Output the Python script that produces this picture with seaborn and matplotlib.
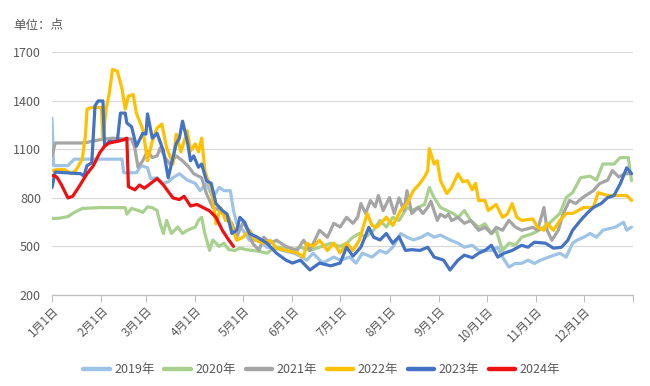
import matplotlib
matplotlib.use("Agg")
import matplotlib.pyplot as plt
from matplotlib.lines import Line2D
import seaborn as sns
import pandas as pd

# ---------------- data (day of year, value) ----------------
years = ["2019年", "2020年", "2021年", "2022年", "2023年", "2024年"]
colors = ["#9DC3E6", "#A9D18E", "#A5A5A5", "#FFC000", "#4472C4", "#EE1111"]

month_ticks = [0, 31, 59, 90, 120, 151, 181, 212, 243, 273, 304, 334, 365]
month_labels = ["1月1日", "2月1日", "3月1日", "4月1日", "5月1日", "6月1日",
                "7月1日", "8月1日", "9月1日", "10月1日", "11月1日", "12月1日", ""]
y_ticks = [200, 500, 800, 1100, 1400, 1700]

s2019 = [(0,1294),(1,1000),(5,1000),(10,1000),(14,1040),(20,1040),(30,1040),(40,1040),(44,1040),(45,956),(50,956),(53,956),(56,1000),(60,987),(62,920),(66,925),(70,890),(73,900),(76,925),(80,950),(85,910),(90,890),(93,845),(97,890),(101,802),(105,865),(108,845),(112,845),(114,722),(116,643),(120,600),(124,538),(130,538),(135,495),(140,490),(145,475),(152,458),(156,440),(160,415),(164,458),(170,397),(177,434),(181,415),(187,434),(191,397),(195,458),(201,434),(206,475),(210,458),(214,495),(219,580),(223,557),(227,540),(232,557),(236,580),(240,557),(244,570),(250,540),(255,520),(259,495),(264,507),(268,475),(272,475),(276,475),(280,495),(283,434),(287,372),(291,395),(295,395),(299,415),(303,395),(307,415),(312,434),(319,458),(323,434),(327,520),(330,540),(334,557),(338,580),(342,557),(346,600),(350,610),(354,620),(359,650),(361,600),(364,620)]

s2020 = [(0,673),(5,675),(10,685),(14,710),(19,735),(30,740),(40,740),(46,740),(47,700),(50,735),(55,720),(57,710),(60,745),(63,740),(66,722),(68,640),(70,580),(72,661),(75,580),(79,620),(82,580),(85,600),(90,620),(92,661),(94,680),(96,580),(99,475),(101,540),(105,500),(108,520),(111,480),(115,475),(118,490),(122,480),(126,475),(130,470),(135,458),(140,495),(147,495),(152,480),(156,495),(162,475),(168,495),(175,520),(181,500),(185,520),(189,557),(193,580),(197,557),(202,600),(206,661),(210,620),(214,680),(218,660),(223,741),(226,722),(230,741),(234,760),(237,865),(240,802),(244,741),(248,722),(252,704),(255,680),(259,722),(263,660),(268,618),(272,640),(276,580),(279,600),(283,475),(287,520),(291,507),(295,557),(302,580),(306,600),(312,640),(319,704),(323,802),(327,833),(332,925),(338,935),(342,910),(346,1010),(353,1010),(357,1050),(362,1050),(364,907)]

s2021 = [(0,1060),(2,1140),(10,1140),(20,1140),(25,1150),(30,1160),(38,1170),(45,1165),(50,1165),(52,1110),(54,990),(57,1030),(60,1090),(63,1050),(66,1060),(68,1110),(71,1050),(74,1010),(78,1060),(82,1030),(86,990),(89,950),(94,925),(97,827),(101,741),(106,722),(110,661),(113,643),(116,557),(120,650),(123,600),(126,520),(130,475),(133,557),(137,520),(141,538),(147,500),(154,475),(158,538),(162,475),(166,557),(168,600),(173,557),(177,643),(181,620),(185,680),(189,643),(192,680),(194,765),(197,704),(200,784),(203,745),(205,815),(208,722),(212,802),(215,704),(218,800),(221,722),(223,845),(226,704),(230,741),(233,704),(236,741),(238,780),(242,661),(244,700),(247,680),(249,700),(251,660),(255,680),(259,643),(263,660),(268,600),(272,618),(276,580),(279,618),(283,600),(287,661),(291,620),(295,600),(302,618),(305,600),(309,741),(311,600),(314,538),(318,600),(321,700),(325,784),(329,765),(333,800),(336,820),(340,845),(344,889),(349,910),(352,969),(356,930),(360,950),(364,950)]

s2022 = [(0,969),(3,975),(8,975),(12,950),(15,970),(19,1040),(21,1185),(22,1350),(25,1360),(31,1360),(32,1165),(34,1350),(36,1450),(38,1595),(41,1585),(44,1475),(46,1350),(48,1430),(51,1440),(53,1325),(57,1225),(60,1030),(63,1150),(66,1233),(69,1257),(72,1110),(76,1010),(78,1195),(81,1085),(85,1215),(87,1090),(90,1135),(92,1085),(94,1170),(96,970),(98,907),(100,870),(103,640),(106,740),(109,660),(111,680),(114,600),(116,538),(120,557),(124,600),(128,538),(133,520),(137,538),(141,490),(147,475),(154,460),(158,434),(160,520),(164,500),(168,538),(173,475),(177,520),(181,460),(185,520),(189,475),(193,538),(198,704),(201,630),(204,618),(210,680),(214,630),(219,722),(223,765),(227,845),(231,889),(234,930),(236,969),(237,1105),(240,1010),(242,1030),(244,907),(248,827),(251,865),(255,950),(258,900),(261,907),(264,850),(266,890),(268,784),(272,784),(274,722),(279,760),(283,680),(286,700),(289,765),(292,680),(295,661),(302,670),(305,618),(309,600),(311,643),(315,600),(319,661),(323,704),(327,704),(334,741),(340,741),(343,833),(349,815),(355,815),(361,815),(364,784)]

s2023 = [(0,864),(2,960),(10,955),(18,950),(20,935),(22,1000),(25,1018),(27,1370),(29,1400),(32,1400),(33,1120),(36,1150),(41,1150),(43,1325),(46,1325),(47,1264),(50,1240),(53,1120),(57,1200),(59,1195),(60,1320),(63,1170),(66,1200),(70,1090),(73,925),(76,1050),(78,1135),(80,1170),(82,1275),(85,1150),(87,1030),(89,1060),(92,990),(94,1010),(97,907),(100,890),(103,765),(107,722),(110,700),(113,580),(116,600),(118,680),(121,650),(124,580),(129,557),(135,520),(141,458),(147,415),(151,397),(156,415),(162,354),(168,397),(175,380),(181,397),(185,495),(189,440),(194,495),(199,618),(202,557),(206,540),(210,580),(214,520),(218,560),(222,475),(226,480),(231,475),(236,495),(240,434),(246,415),(250,354),(255,415),(259,446),(264,430),(268,458),(272,475),(276,507),(280,434),(284,458),(289,475),(295,507),(299,495),(303,526),(310,520),(315,489),(320,495),(324,538),(327,600),(332,661),(336,704),(340,741),(345,766),(349,802),(353,815),(357,889),(361,987),(364,950)]

s2024 = [(0,940),(3,930),(6,880),(10,800),(13,810),(17,870),(22,950),(26,1000),(30,1080),(33,1120),(36,1140),(41,1150),(45,1160),(47,1170),(48,870),(52,850),(55,880),(58,860),(62,890),(66,920),(70,880),(73,840),(76,800),(80,790),(83,810),(87,750),(91,760),(95,740),(99,720),(103,680),(107,600),(111,540),(114,500)]

series = [s2019, s2020, s2021, s2022, s2023, s2024]

rows = []
for yr, s in zip(years, series):
    for d, v in s:
        rows.append({"year": yr, "day": d, "value": v})
df = pd.DataFrame(rows)

# ---------------- plot ----------------
sns.set_theme(style="white")
plt.rcParams["font.family"] = ["Noto Sans CJK SC", "DejaVu Sans"]

txt = "#595959"
fig = plt.figure(figsize=(6.5, 3.86), dpi=100)
ax = fig.add_axes([0.08, 0.236, 0.894, 0.628])

sns.lineplot(data=df, x="day", y="value", hue="year", hue_order=years,
             palette=dict(zip(years, colors)), linewidth=2.3, ax=ax,
             legend=False, estimator=None, sort=False)

ax.set_xlim(0, 365)
ax.set_ylim(200, 1700)
ax.set_yticks(y_ticks)
ax.set_yticklabels([str(v) for v in y_ticks], fontsize=9, color=txt)
ax.set_xticks(month_ticks)
ax.set_xticklabels(month_labels, fontsize=8.5, color=txt, rotation=45,
                   ha="right", rotation_mode="anchor")
ax.tick_params(axis="y", length=0, pad=8)
ax.tick_params(axis="x", length=5, width=0.8, color="#BFBFBF", pad=2,
               direction="out", bottom=True)
ax.set_xlabel("")
ax.set_ylabel("")
ax.yaxis.grid(True, color="#D9D9D9", linewidth=0.9)
ax.xaxis.grid(False)
for sp in ["left", "right", "top"]:
    ax.spines[sp].set_visible(False)
ax.spines["bottom"].set_color("#BFBFBF")
ax.spines["bottom"].set_linewidth(0.9)

fig.text(0.02, 0.935, "单位：点", fontsize=9, color=txt, ha="left", va="center")

handles = [Line2D([0], [0], color=c, lw=3.2) for c in colors]
fig.legend(handles, years, loc="center", bbox_to_anchor=(0.495, 0.042), ncol=6,
           frameon=False, fontsize=9, handlelength=2.1, handletextpad=0.35,
           columnspacing=0.8, labelcolor=txt)

fig.savefig("out.png", dpi=100)
